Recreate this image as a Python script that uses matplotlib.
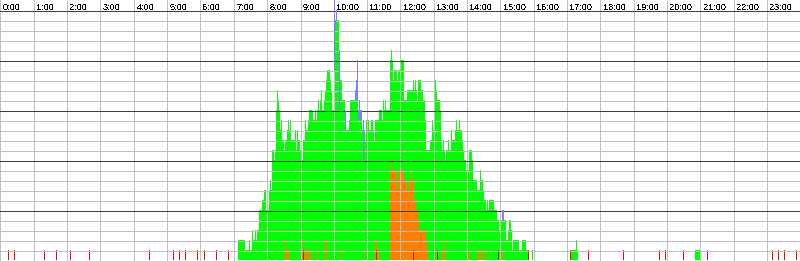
import matplotlib
matplotlib.use("Agg")
import matplotlib.pyplot as plt

plt.rcParams["text.antialiased"] = False

# ---- data -------------------------------------------------------------
SLOTS_PER_DAY = 800            # one time slot = 1.8 minutes
hour_labels = [f"{h}:00" for h in range(24)]

# green series: level per time slot, starting at slot 238
green_first_slot = 238
green_level = [
    2, 2, 2, 2, 2, 2, 2, 1, 1, 1, 1, 2, 1, 1, 3, 2, 2, 3, 2, 3,
    3, 5, 5, 5, 6, 6, 7, 7, 5, 5, 5, 7, 8, 7, 11, 11, 10, 11, 15, 17,
    16, 15, 13, 14, 12, 12, 11, 12, 12, 13, 14, 13, 14, 12, 12, 12, 12, 13, 11, 13,
    12, 12, 11, 10, 10, 12, 12, 14, 13, 13, 14, 15, 15, 15, 15, 14, 14, 15, 14, 15,
    16, 15, 16, 17, 15, 15, 16, 17, 18, 19, 19, 19, 18, 17, 15, 15, 19, 23, 24, 24,
    24, 15, 18, 18, 16, 16, 16, 13, 13, 13, 13, 14, 16, 16, 16, 16, 16, 16, 16, 16,
    14, 14, 14, 14, 13, 10, 13, 12, 14, 14, 14, 13, 13, 14, 14, 13, 12, 14, 14, 14,
    14, 15, 15, 15, 14, 16, 15, 16, 15, 15, 15, 15, 20, 21, 20, 18, 19, 19, 19, 18,
    19, 19, 18, 20, 20, 20, 16, 16, 16, 17, 17, 17, 17, 17, 17, 18, 17, 18, 17, 16,
    18, 18, 18, 17, 17, 16, 16, 14, 11, 11, 11, 11, 12, 12, 14, 13, 15, 18, 17, 16,
    16, 16, 15, 12, 11, 12, 11, 10, 11, 11, 12, 11, 11, 13, 12, 12, 12, 13, 14, 13,
    13, 14, 13, 13, 12, 11, 10, 10, 9, 9, 9, 11, 11, 11, 10, 8, 8, 8, 8, 7,
    7, 7, 9, 8, 8, 7, 6, 6, 5, 6, 5, 6, 6, 6, 6, 6, 5, 5, 5, 4,
    4, 3, 2, 4, 4, 4, 4, 4, 2, 2, 3, 4, 4, 3, 1, 2, 2, 2, 2, 2,
    2, 1, 1, 1, 2, 2, 2, 2, 1, 1, 0, 0, 0, 0, 1,
]
green_extra_slots = [571, 572, 573, 574, 575, 576, 577, 695, 696, 697, 698, 699]
green_extra_level = [1, 1, 1, 1, 1, 2, 1, 1, 1, 1, 1, 1]

# orange series: main block starting at slot 390
orange_first_slot = 390
orange_level = [
    9, 10, 9, 9, 9, 9, 7, 8, 9, 9, 9, 9, 9, 9, 8, 8, 8, 7, 7, 8,
    9, 8, 8, 8, 6, 6, 5, 5, 4, 3, 3, 3, 3, 3, 3, 3, 2, 1,
]
orange_extra_slots = [285, 286, 287, 288, 302, 305, 306, 307, 308, 310, 316, 325, 326,
                      341, 364, 375, 376, 377, 378, 442, 443, 444, 467, 468, 478,
                      479, 480, 482, 486, 498, 502]
orange_extra_level = [2, 1, 1, 1, 2, 1, 1, 1, 1, 1, 1, 2, 2,
                      1, 1, 2, 2, 1, 1, 1, 1, 2, 1, 1, 1,
                      1, 1, 1, 1, 1, 1]

# blue series (on top of green)
blue_slots = [334, 335, 336, 339, 345, 355, 356, 357, 358, 359, 360, 361, 363, 502, 503]
blue_count = [7, 1, 1, 6, 2, 1, 2, 4, 1, 2, 1, 1, 4, 1, 1]

# red series (bottom row)
red_slots = [8, 14, 44, 56, 70, 89, 149, 173, 179, 185, 197, 204, 216, 228, 234,
             303, 376, 413, 437, 498, 528, 570, 588, 623, 659, 665, 683, 707,
             772, 778, 784, 796]
red_count = [1] * len(red_slots)

# ---- styling ----------------------------------------------------------
GREEN = "#00FF00"
ORANGE = "#FF8000"
BLUE = "#8080FF"
RED = "#FF0000"
GRID = "#C0C0C0"
DARK = "#404040"

W = 24 / SLOTS_PER_DAY  # hours per slot

fig = plt.figure(figsize=(8.0, 2.61), dpi=100)
ax = fig.add_axes([0, 0, 1, 1])
ax.set_xlim(0, 24)
ax.set_ylim(-0.1, 26)
ax.axis("off")

def bars(slots, heights, bottoms, color, z):
    xs = [s * W for s in slots]
    ax.bar(xs, heights, width=W, bottom=bottoms, align="edge", color=color,
           linewidth=0, antialiased=False, zorder=z)

g_slots = [green_first_slot + i for i in range(len(green_level))]
bars(g_slots, green_level, 0, GREEN, 2)
bars(green_extra_slots, green_extra_level, 0, GREEN, 2)

o_slots = [orange_first_slot + i for i in range(len(orange_level))]
bars(o_slots, orange_level, 0, ORANGE, 3)
bars(orange_extra_slots, orange_extra_level, 0, ORANGE, 3)

level_of = dict(zip(g_slots, green_level))
blue_bottom = [level_of.get(s, 0) for s in blue_slots]
bars(blue_slots, blue_count, blue_bottom, BLUE, 8)

bars(red_slots, red_count, 0, RED, 4)

# grid: horizontal rows
lw = 0.72
for v in range(0, 26):
    if v % 5 == 0:
        continue
    ax.hlines(v - 0.05, 0, 24, colors=GRID, linewidth=lw, antialiased=False, zorder=5)
# vertical hour lines
for h in range(24):
    ax.vlines(h + 0.015, -0.1, 26, colors=GRID, linewidth=lw, antialiased=False, zorder=5)
# dark lines every 5 rows
for v in range(0, 26, 5):
    ax.hlines(v - 0.05, 0, 24, colors=DARK, linewidth=lw, antialiased=False, zorder=6)

for h, lab in enumerate(hour_labels):
    ax.text(h + 0.09, 25.05, lab, fontsize=6.6, family=["Liberation Sans", "DejaVu Sans"],
            color="black", ha="left", va="baseline", zorder=7)

fig.savefig("out.png", dpi=100, facecolor="white")
